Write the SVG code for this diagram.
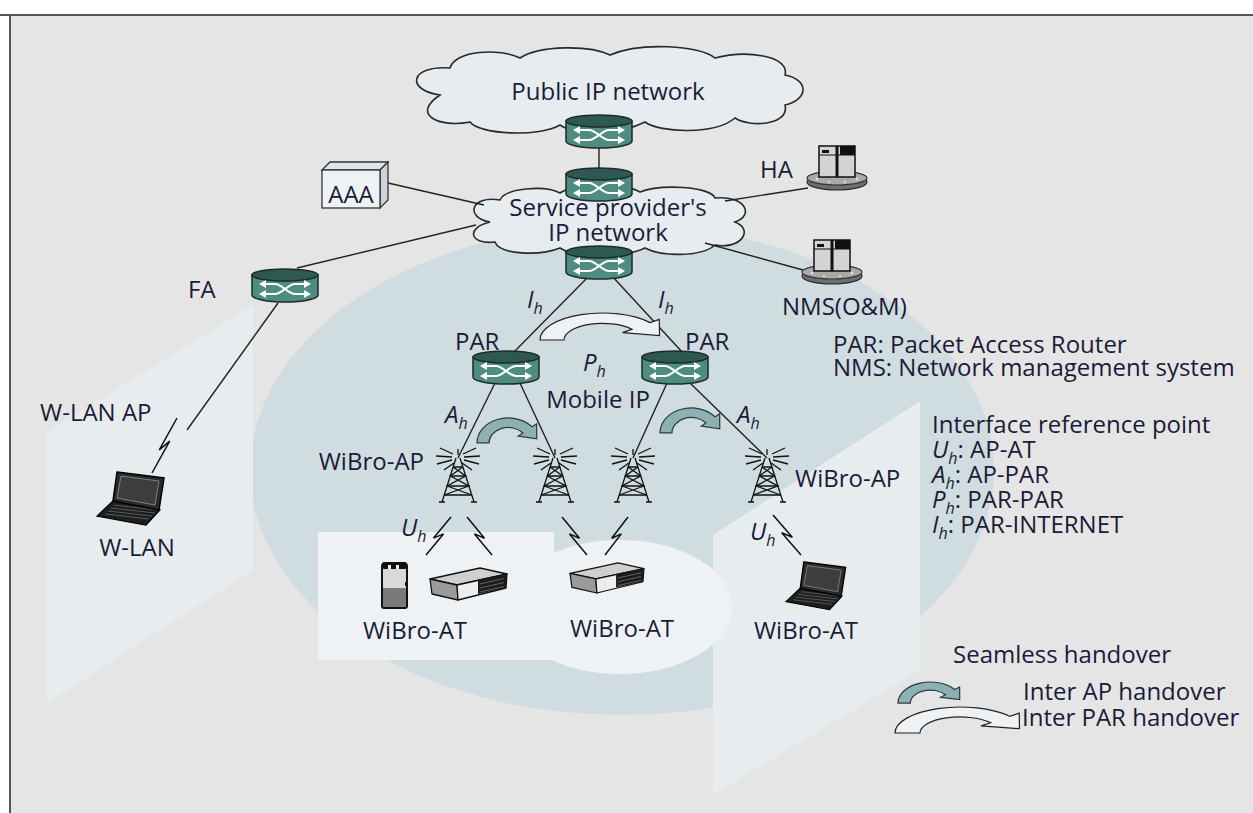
<svg xmlns="http://www.w3.org/2000/svg" width="1253" height="813" viewBox="0 0 1253 813">
<style>
  .t{font-family:"Open Sans","Liberation Sans",sans-serif;font-size:24px;fill:#1b1b38}
  .m{text-anchor:middle}
  .e{text-anchor:end}
  .i{font-style:italic}
  .s{font-size:16px;font-style:italic}
  .ln{stroke:#222;stroke-width:1.4;fill:none}
  .bolt{stroke:#111;stroke-width:1.5;fill:none}
  .cloud{fill:#e6ecf0;stroke:#2a2a2a;stroke-width:1.6}
  .ap{fill:#8db0b3;stroke:#2a3a3c;stroke-width:1.2}
  .par{fill:#eef2f4;stroke:#222;stroke-width:1.2}
</style>
<defs>
  <!-- router: cylinder with crossing arrows, centred on (0,0) -->
  <g id="router">
    <path d="M-33,-10 V10 A33,7 0 0 0 33,10 V-10 Z" fill="#4e8c80" stroke="#1d2b28" stroke-width="1.5"/>
    <ellipse cx="0" cy="-10" rx="33" ry="6" fill="#2e5952" stroke="#1d2b28" stroke-width="1.5"/>
    <g stroke="#fff" stroke-width="2.2" fill="none">
      <path d="M-21,-1 H-10 C-3,-1 3,9 10,9 H21"/>
      <path d="M-21,9 H-10 C-3,9 3,-1 10,-1 H21"/>
    </g>
    <g fill="#fff">
      <polygon points="-26,-1 -19,-5 -19,3"/>
      <polygon points="26,-1 19,-5 19,3"/>
      <polygon points="-26,9 -19,5 -19,13"/>
      <polygon points="26,9 19,5 19,13"/>
    </g>
  </g>
  <!-- server on a disc base, origin at base centre -->
  <g id="server">
    <ellipse cx="0" cy="6" rx="30" ry="8" fill="#6e6e6e" stroke="#2a2a2a" stroke-width="1.2"/>
    <ellipse cx="0" cy="2" rx="30" ry="7" fill="#a9a9a9" stroke="#333" stroke-width="1.2"/>
    <g fill="#d8d8d8"><circle cx="-20" cy="3" r="1.5"/><circle cx="20" cy="3" r="1.5"/><circle cx="-8" cy="6" r="1.2"/><circle cx="8" cy="6" r="1.2"/></g>
    <rect x="-18" y="-30" width="36" height="31" fill="#d4d4d4" stroke="#111" stroke-width="1.5"/>
    <rect x="-1.5" y="-30" width="3" height="31" fill="#111"/>
    <line x1="-18" y1="-21" x2="18" y2="-21" stroke="#111" stroke-width="1.2"/>
    <rect x="-15" y="-26" width="7" height="3" fill="#111"/>
    <rect x="3" y="-30" width="15" height="9" fill="#111"/>
  </g>
  <!-- lattice antenna tower, origin at the radiating hub -->
  <g id="tower" fill="none" stroke="#111" stroke-width="1.3">
    <path d="M-2,0 L-16,44 M2,0 L16,44 M-19,44 H-13 M13,44 H19"/>
    <path d="M-4.9,9 H4.9 M-7.7,18 H7.7 M-10.9,28 H10.9 M-13.8,37 H13.8"/>
    <path d="M-4.9,9 L7.7,18 L-10.9,28 L13.8,37 M4.9,9 L-7.7,18 L10.9,28 L-13.8,37"/>
    <path d="M0,-3 V-9"/>
    <path d="M-5,-4 L-18,-10 M-6,-1 L-22,-2 M-6,2 L-21,6 M-4,5 L-14,12 M5,-4 L18,-10 M6,-1 L22,-2 M6,2 L21,6 M4,5 L14,12"/>
  </g>
  <!-- notebook computer -->
  <g id="laptop">
    <polygon points="16,29 63,38 49,53 0,44" fill="#1e1e1e" stroke="#000" stroke-width="1.2"/>
    <path d="M8,42 L52,47 M11,39 L55,44 M14,36 L58,41 M17,33 L60,38" stroke="#6a6a6a" stroke-width="0.8"/>
    <polygon points="20,0 67,6 62,38 16,29" fill="#2b2b2b" stroke="#000" stroke-width="1.5"/>
    <polygon points="24,4 62,9 58,33 20,26" fill="#3d3d3d" stroke="#808080" stroke-width="1"/>
  </g>
  <!-- access terminal box -->
  <g id="modem" stroke-linejoin="round">
    <polygon points="0,12 50,1 77,7 27,18" fill="#cfcfcf" stroke="#111" stroke-width="1.3"/>
    <polygon points="0,12 27,18 28,33 2,27" fill="#9a9a9a" stroke="#111" stroke-width="1.3"/>
    <polygon points="27,18 77,7 76,21 28,33" fill="#ececec" stroke="#111" stroke-width="1.3"/>
    <polygon points="48,13 77,7 76,21 48,27" fill="#1b1b1b"/>
    <path d="M50,17 L74,11.5 M50,21 L74,15.5 M50,25 L74,19.5" stroke="#777" stroke-width="0.8"/>
  </g>
  <!-- handheld terminal -->
  <g id="phone">
    <rect x="0" y="2" width="25" height="44" rx="2" fill="#d9d9d9" stroke="#111" stroke-width="2"/>
    <rect x="1" y="26" width="23" height="19" fill="#7a7a7a"/>
    <rect x="0" y="0" width="25" height="7" rx="2" fill="#111"/>
    <rect x="6" y="3" width="3" height="4" fill="#eee"/>
    <rect x="14" y="3" width="3" height="4" fill="#eee"/>
    <rect x="23" y="20" width="2" height="4" fill="#111"/>
  </g>
  <!-- curved handover arrow -->
  <path id="ho" d="M2,28 A26,26 0 0 1 47.9,11.3 L51.7,8.1 L51.8,23.7 L36.4,20.9 L40.3,17.7 A16,16 0 0 0 12,28 Z" vector-effect="non-scaling-stroke"/>
</defs>

<!-- frame and background -->
<rect x="0" y="0" width="1253" height="813" fill="#ffffff"/>
<rect x="10" y="15" width="1243" height="798" fill="#e5e5e5"/>
<path d="M0,15 H1253 M10,15 V813" stroke="#555" stroke-width="2" fill="none"/>

<!-- coverage areas -->
<g id="areas">
  <ellipse cx="622" cy="470" rx="372" ry="245" fill="#cfdce0"/>
  <polygon points="47,432 253,305 253,570 47,703" fill="#e7ecef"/>
  <polygon points="713,535 920,401 920,670 713,795" fill="#e7ecef"/>
  <rect x="318" y="532" width="236" height="128" fill="#eef2f5"/>
  <ellipse cx="620" cy="607" rx="112" ry="67" fill="#eef2f5"/>
</g>

<!-- clouds -->
<g id="public-ip-network">
  <path class="cloud" d="M440,95 C405,90 410,65 450,68 C455,50 500,48 520,58 C540,45 590,45 610,55 C640,42 700,45 715,58 C745,50 790,55 785,75 C810,80 808,100 785,105 C790,125 750,128 735,118 C715,135 660,133 645,122 C620,135 575,135 560,125 C540,137 480,135 470,122 C440,128 410,115 440,95 Z"/>
</g>
<g id="service-provider-network">
  <path class="cloud" d="M490,222 C465,218 470,195 500,200 C505,188 545,185 560,193 C575,183 625,183 640,192 C660,184 710,186 715,198 C745,195 755,215 735,222 C755,230 740,250 715,245 C700,258 660,256 645,248 C625,258 575,258 560,248 C540,256 500,255 495,242 C470,245 465,228 490,222 Z"/>
</g>

<!-- connectors -->
<g id="connectors">
  <path class="ln" d="M599,147 V168"/>
  <path class="ln" d="M388,183 L484,205"/>
  <path class="ln" d="M297,268 L476,225"/>
  <path class="ln" d="M725,201 L808,188"/>
  <path class="ln" d="M705,243 L803,270"/>
  <path class="ln" d="M278,303 L187,430"/>
  <path class="ln" d="M589,276 L513,353"/>
  <path class="ln" d="M612,276 L683,353"/>
  <path class="ln" d="M495,383 L458,458"/>
  <path class="ln" d="M520,383 L555,458"/>
  <path class="ln" d="M667,383 L633,458"/>
  <path class="ln" d="M690,383 L767,458"/>
  <!-- radio links -->
  <path class="bolt" d="M152,473 L169.7,441.2 L159.3,449.8 L177,418"/>
  <path class="bolt" d="M426,555 L443.5,533.9 L433.5,538.1 L451,517"/>
  <path class="bolt" d="M467,517 L484.5,538.2 L474.5,533.9 L492,555"/>
  <path class="bolt" d="M562,517 L579.5,538.2 L569.5,533.9 L587,555"/>
  <path class="bolt" d="M605,555 L621.3,533.9 L611.7,538.2 L628,517"/>
  <path class="bolt" d="M773,515 L792.3,537.3 L781.7,532.7 L801,555"/>
</g>

<!-- handover arrows -->
<g id="handovers">
  <use href="#ho" class="par" transform="translate(535.2,310.9) scale(2.4,1.04)"/>
  <use href="#ho" class="ap" transform="translate(474.6,416) scale(1.2,0.96)"/>
  <use href="#ho" class="ap" transform="translate(657.6,406) scale(1.2,0.96)"/>
</g>

<!-- nodes -->
<g id="router-public"><use href="#router" x="599" y="131"/></g>
<g id="router-provider"><use href="#router" x="599" y="184"/></g>
<g id="router-access"><use href="#router" x="599" y="262"/></g>
<g id="fa"><use href="#router" x="285" y="285"/><text class="t" x="188" y="298">FA</text></g>
<g id="par-left"><use href="#router" x="506" y="367"/><text class="t" x="455" y="350">PAR</text></g>
<g id="par-right"><use href="#router" x="675" y="367"/><text class="t" x="685" y="350">PAR</text></g>
<g id="aaa">
  <polygon points="322,170 330,162 388,162 380,170" fill="#dfe5ea" stroke="#333" stroke-width="1.3"/>
  <polygon points="380,170 388,162 388,200 380,208" fill="#cdd4da" stroke="#333" stroke-width="1.3"/>
  <rect x="322" y="170" width="58" height="38" fill="#eef2f5" stroke="#333" stroke-width="1.3"/>
  <text class="t m" x="351" y="203">AAA</text>
</g>
<g id="ha"><use href="#server" x="837" y="176"/><text class="t" x="760" y="178">HA</text></g>
<g id="nms"><use href="#server" x="832" y="270"/><text class="t" x="782" y="315">NMS(O&amp;M)</text></g>

<g id="ap-1"><use href="#tower" x="458" y="458"/><text class="t e" x="424" y="470">WiBro-AP</text></g>
<g id="ap-2"><use href="#tower" x="555" y="458"/></g>
<g id="ap-3"><use href="#tower" x="633" y="458"/></g>
<g id="ap-4"><use href="#tower" x="767" y="458"/><text class="t" x="795" y="487">WiBro-AP</text></g>

<g id="at-left">
  <use href="#phone" x="382" y="562"/>
  <use href="#modem" x="430" y="567"/>
  <text class="t m" x="415" y="639">WiBro-AT</text>
</g>
<g id="at-middle">
  <use href="#modem" transform="translate(570,562) scale(0.96,0.94)"/>
  <text class="t m" x="622" y="637">WiBro-AT</text>
</g>
<g id="at-right">
  <use href="#laptop" transform="translate(786,562) scale(0.89,0.9)"/>
  <text class="t m" x="806" y="639">WiBro-AT</text>
</g>
<g id="wlan">
  <use href="#laptop" x="97" y="472"/>
  <text class="t" x="40" y="421">W-LAN AP</text>
  <text class="t m" x="137" y="556">W-LAN</text>
</g>

<!-- labels -->
<g id="labels">
  <text class="t m" x="608" y="100">Public IP network</text>
  <text class="t m" x="608" y="216">Service provider's</text>
  <text class="t m" x="608" y="241">IP network</text>
  <text class="t" x="527" y="308"><tspan class="i">I</tspan><tspan class="s" dy="6">h</tspan></text>
  <text class="t" x="658" y="308"><tspan class="i">I</tspan><tspan class="s" dy="6">h</tspan></text>
  <text class="t" x="583" y="371"><tspan class="i">P</tspan><tspan class="s" dy="6">h</tspan></text>
  <text class="t m" x="598" y="408">Mobile IP</text>
  <text class="t" x="445" y="423"><tspan class="i">A</tspan><tspan class="s" dy="6">h</tspan></text>
  <text class="t" x="737" y="423"><tspan class="i">A</tspan><tspan class="s" dy="6">h</tspan></text>
  <text class="t" x="401" y="536"><tspan class="i">U</tspan><tspan class="s" dy="6">h</tspan></text>
  <text class="t" x="750" y="540"><tspan class="i">U</tspan><tspan class="s" dy="6">h</tspan></text>
</g>

<!-- legend -->
<g id="legend">
  <text class="t" x="833" y="353">PAR: Packet Access Router</text>
  <text class="t" x="833" y="376">NMS: Network management system</text>
  <text class="t" x="932" y="433">Interface reference point</text>
  <text class="t" x="932" y="458"><tspan class="i">U</tspan><tspan class="s" dy="6">h</tspan><tspan dy="-6">: AP-AT</tspan></text>
  <text class="t" x="932" y="483"><tspan class="i">A</tspan><tspan class="s" dy="6">h</tspan><tspan dy="-6">: AP-PAR</tspan></text>
  <text class="t" x="932" y="508"><tspan class="i">P</tspan><tspan class="s" dy="6">h</tspan><tspan dy="-6">: PAR-PAR</tspan></text>
  <text class="t" x="932" y="533"><tspan class="i">I</tspan><tspan class="s" dy="6">h</tspan><tspan dy="-6">: PAR-INTERNET</tspan></text>
  <text class="t" x="953" y="663">Seamless handover</text>
  <use href="#ho" class="ap" transform="translate(895.5,680.4) scale(1.24,0.81)"/>
  <use href="#ho" class="par" transform="translate(890,705) scale(2.5,1)"/>
  <text class="t" x="1023" y="700">Inter AP handover</text>
  <text class="t" x="1022" y="726">Inter PAR handover</text>
</g>
</svg>
